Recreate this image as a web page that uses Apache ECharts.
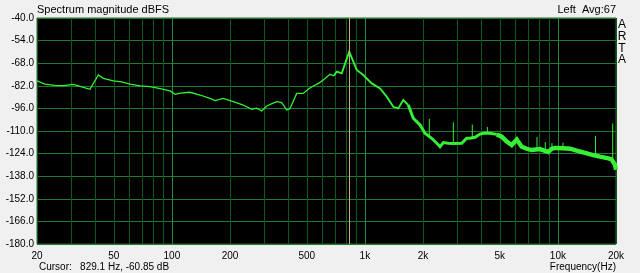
<!DOCTYPE html>
<html><head><meta charset="utf-8">
<script src="https://cdn.jsdelivr.net/npm/echarts@6/dist/echarts.min.js"></script>
<style>html,body{margin:0;padding:0;background:#f0f0f0;overflow:hidden}#c{width:640px;height:273px}</style>
</head><body><div id="c"></div>
<script>
// Spectrum (Hz, dBFS)
const freq = [20,22.0,24.8,27.4,30.8,33.4,37.6,41.6,44.1,49.7,54.9,60.7,68.4,77.0,86.8,97.8,103.8,110.2,124.1,139.8,157.5,167.2,184.6,208.0,234.4,259.0,275.0,291.9,310.0,330.0,349.2,370.7,393.5,409.2,443.3,479.6,510.0,540.3,575.0,608.7,659.4,690.0,714.4,758.4,829.1,907.0,981.2,1085,1198,1297,1404,1489,1581,1678,1781,1930,2048,2218,2356,2450,2548,2704,2871,3174,3368,3504,3719,3948,4106,4450,4820,5115,5430,5764,6118,6494,6893,7317,8078,8918,9286,9660,10664,11554,12518,14102,15257,16526,18244,18956,19762,20000];
const mag = [-79.0,-80.9,-81.7,-81.9,-81.1,-82.3,-84.2,-75.3,-77.4,-79.0,-79.6,-80.9,-82.1,-82.5,-83.8,-85.2,-87.3,-86.5,-86.0,-87.7,-89.8,-91.2,-89.8,-91.8,-93.9,-96.6,-95.8,-97.6,-94.5,-93.0,-91.8,-92.4,-97.0,-96.0,-86.7,-86.7,-84.0,-82.1,-80.5,-78.4,-74.9,-75.8,-73.2,-74.3,-60.85,-72.2,-75.3,-80.5,-83.6,-88.7,-95.0,-96.0,-90.8,-93.9,-102.1,-106.3,-111.4,-114.5,-117.6,-119.7,-117.2,-117.6,-117.8,-117.6,-114.5,-114.5,-113.9,-111.9,-111.4,-111.4,-112.1,-113.5,-116.6,-118.7,-115.3,-119.7,-121.0,-121.8,-121.2,-123.0,-121.0,-120.5,-120.7,-121.0,-122.2,-123.8,-124.9,-125.9,-126.9,-127.5,-131.0,-134.0];
// narrow tonal spikes
const spikeFreq = [2156,2871,3601,4308,7794,8604,9318,10628,15666,19228];
const spikeBase = [-112.5,-117.8,-114.3,-111.5,-121.5,-122.0,-121.0,-120.7,-125.2,-127.8];
const spikeTop  = [-102.5,-104.6,-106.0,-107.5,-113.8,-116.8,-117.5,-117.2,-113.0,-105.3];
// axis ticks
const xLabelValues = [20,50,100,200,500,1000,2000,5000,10000,20000];
const xGridValues = [20,30,40,50,60,70,80,90,100,200,300,400,500,600,700,800,900,1000,2000,3000,4000,5000,6000,7000,8000,9000,10000,20000];
const yMin = -180, yMax = -40, yStep = 14;
const cursorFreq = 829.1, cursorDb = -60.85;

// styling
const segBreaks = [20, 700, 1700, 5000, 20000];
const segWidths = [1.3, 1.9, 3.0, 4.4];
const minorGrid = '#12561f', majorGrid = '#238a37';
const gridColors = [minorGrid,minorGrid,minorGrid,minorGrid,minorGrid,minorGrid,minorGrid,minorGrid,majorGrid];

const series = [];
for (let k = 0; k < segWidths.length; k++) {
  const lo = segBreaks[k], hi = segBreaks[k+1];
  const pts = [];
  let first = -1;
  for (let i = 0; i < freq.length; i++) {
    if (freq[i] >= lo && freq[i] <= hi) { if (first < 0) first = i; pts.push([freq[i], mag[i]]); }
  }
  if (first > 0) pts.unshift([freq[first-1], mag[first-1]]);
  series.push({
    type: 'line', data: pts, showSymbol: false, symbol: 'none', silent: true,
    lineStyle: { color: '#36f036', width: segWidths[k], join: 'miter' },
    z: 3
  });
}
const spikeData = [];
for (let i = 0; i < spikeFreq.length; i++) {
  spikeData.push([spikeFreq[i], spikeBase[i]], [spikeFreq[i], spikeTop[i]], [spikeFreq[i], '-']);
}
series.push({ type: 'line', data: spikeData, showSymbol: false, symbol: 'none', silent: true, connectNulls: false,
  lineStyle: { color: '#36f036', width: 1 }, z: 3 });
series.push({ type: 'line', data: [], silent: true,
  markLine: { symbol: 'none', silent: true, label: { show: false }, animation: false,
    lineStyle: { color: '#c9b27a', width: 1, type: 'solid' }, data: [{ xAxis: cursorFreq }] }, z: 2 });

const font = '"Liberation Sans", Arial, sans-serif';
const chart = echarts.init(document.getElementById('c'), null, { renderer: 'canvas' });
chart.setOption({
  animation: false,
  backgroundColor: '#f0f0f0',
  grid: { left: 37, top: 18, width: 579, height: 226, show: true, backgroundColor: '#000', borderColor: '#2a6a34', borderWidth: 1 },
  xAxis: {
    type: 'log', logBase: 10, min: 20, max: 20000,
    axisLine: { show: false },
    axisTick: { show: false, customValues: xGridValues },
    axisLabel: { customValues: xLabelValues, color: '#000', fontSize: 10, fontFamily: font, margin: 7,
      formatter: v => v >= 1000 ? (Math.round(v) / 1000) + 'k' : String(Math.round(v)) },
    splitLine: { show: true, lineStyle: { color: gridColors, width: 1 } }
  },
  yAxis: {
    type: 'value', min: yMin, max: yMax, interval: yStep,
    axisLine: { show: false }, axisTick: { show: false },
    axisLabel: { color: '#000', fontSize: 10, fontFamily: font, margin: 3, formatter: v => v.toFixed(1) },
    splitLine: { show: true, lineStyle: { color: '#1f7a30', width: 1 } }
  },
  graphic: [
    { type: 'text', left: 37, top: 4, style: { text: 'Spectrum magnitude dBFS', font: '11px ' + font, fill: '#000' } },
    { type: 'text', right: 24, top: 4, style: { text: 'Left  Avg:67', font: '11px ' + font, fill: '#000' } },
    { type: 'text', x: 622, y: 19, style: { text: 'A\nR\nT\nA', font: '12px ' + font, fill: '#000', align: 'center', lineHeight: 11.7 } },
    { type: 'text', left: 39, top: 262, style: { text: 'Cursor:   ' + cursorFreq.toFixed(1) + ' Hz, ' + cursorDb.toFixed(2) + ' dB', font: '10px ' + font, fill: '#000' } },
    { type: 'text', right: 24, top: 262, style: { text: 'Frequency(Hz)', font: '10px ' + font, fill: '#000' } }
  ],
  series: series
});
</script></body></html>
